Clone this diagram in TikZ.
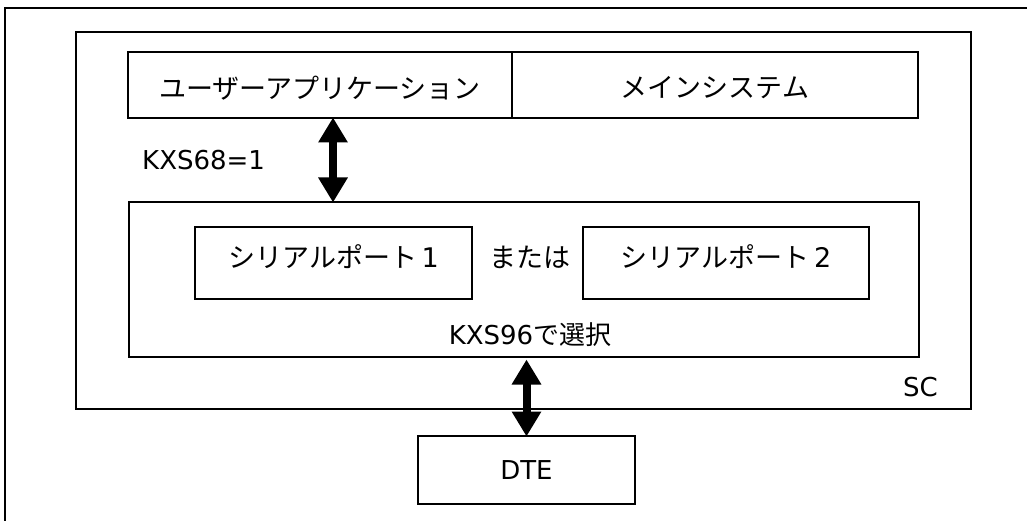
\documentclass[tikz,border=0pt]{standalone}
\usepackage{fontspec}
\setmainfont{Noto Sans CJK JP}
\newfontfamily\latinf{DejaVu Sans}
\usetikzlibrary{arrows.meta}
\begin{document}
\begin{tikzpicture}[x=1pt,y=-1pt,
  box/.style={draw,line width=2pt,inner sep=0pt,outer sep=0pt},
  lbl/.style={inner sep=0pt,font=\fontsize{27}{32}\selectfont},
  small/.style={inner sep=0pt,font=\fontsize{26}{30}\selectfont},
  bigarrow/.style={line width=8pt,{Triangle[width=28pt,length=25pt]}-{Triangle[width=28pt,length=25pt]},shorten <=-0.5pt,shorten >=-0.5pt}]
\useasboundingbox (0,0) rectangle (1027,521);
% outer frame (open)
\draw[line width=2pt] (5,521) -- (5,8) -- (1027,8);
% SC box
\node[small,anchor=base east] (sclbl) at (938,396) {\latinf SC};
\node[box,minimum width=895pt,minimum height=377pt,anchor=north west] (sc) at (76,32) {};
% top row
\node[box,minimum width=384pt,minimum height=66pt,anchor=north west] (app) at (128,52) {};
\node[box,minimum width=406pt,minimum height=66pt,anchor=north west] (main) at (512,52) {};
\node[lbl] (apptxt) at ([yshift=-3pt]app.center) {ユーザーアプリケーション};
\node[lbl] (maintxt) at ([yshift=-3pt]main.center) {メインシステム};
% serial container
\node[box,minimum width=790pt,minimum height=155pt,anchor=north west] (ser) at (129,202) {};
\node[box,minimum width=277pt,minimum height=72pt,anchor=north west] (p1) at (195,227) {};
\node[box,minimum width=286pt,minimum height=72pt,anchor=north west] (p2) at (583,227) {};
\node[lbl] (p1txt) at ([yshift=6pt]p1.center) {シリアルポート{\latinf\,1}};
\node[lbl] (p2txt) at ([yshift=6pt]p2.center) {シリアルポート{\latinf\,2}};
\node[lbl] (or) at (530,257) {または};
\node[small] (sel) at (530,335) {{\latinf KXS96}で選択};
\node[small,anchor=west] (kxs) at (142,160) {\latinf KXS68=1};
% DTE
\node[box,minimum width=217pt,minimum height=68pt,anchor=north west] (dte) at (418,436) {};
\node[small] (dtetxt) at (dte.center) {\latinf DTE};
% arrows
\draw[bigarrow] (app.south -| 333,0) -- (ser.north -| 333,0);
\draw[bigarrow] (ser.south -| dte.center) ++(0,3) coordinate (a2) -- (dte.north);
\end{tikzpicture}
\end{document}
